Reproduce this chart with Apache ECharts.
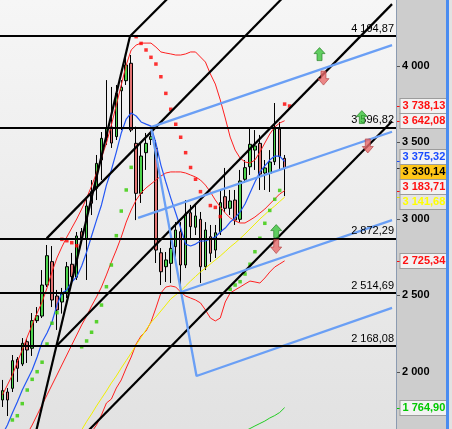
<!DOCTYPE html>
<html>
<head>
<meta charset="utf-8">
<script src="https://cdn.jsdelivr.net/npm/echarts@6.0.0/dist/echarts.min.js"></script>
<style>
html, body { margin:0; padding:0; background:#cdcdcd; overflow:hidden; }
#wrap { position:relative; width:452px; height:429px; }
#chart { position:absolute; left:0; top:0; width:452px; height:429px; }
#strip { position:absolute; left:446px; top:0; width:3px; height:429px; background:#4a8cf0; }
#edge { position:absolute; left:449px; top:0; width:3px; height:429px; background:#e2e2e2; }
</style>
</head>
<body>
<div id="wrap"><div id="chart"></div><div id="strip"></div><div id="edge"></div></div>
<script>
// ---------------- data ----------------
const categoryCount = 80;
const yMin = 1625, yMax = 4432;
const axisTickValues = [2000, 2500, 3000, 3500, 4000];
const levels = [4194.87, 3596.82, 2872.29, 2514.69, 2168.08];

const opens  = [1815,1867,1891,2081,2050,2196,2153,2334,2364,2567,2720,2495,2456,2513,2703,2618,2916,2866,3178,3200,3385,3529,3601,3538,3838,3904,4018,3494,3167,3433,3520,3462,2778,2687,2709,2818,2916,2698,3040,2945,2997,2687,2883,2796,2916,3145,3069,3123,2997,3259,3341,3450,3494,3300,3298,3374,3588,3396];
const closes = [1876,1815,2072,2022,2186,2142,2334,2366,2567,2759,2469,2404,2508,2687,2622,2888,2866,3084,3102,3363,3527,3594,3496,3821,3861,4007,3581,3167,3411,3494,3538,2796,2654,2731,2807,2927,2698,3032,2949,3019,2687,2927,2775,2909,3106,3069,3117,2992,3248,3335,3488,3477,3293,3333,3372,3588,3407,3330.14];
const lows   = [1769,1710,1867,1933,2037,2057,2103,2319,2351,2554,2423,2273,2380,2482,2567,2600,2849,2600,3025,3123,3254,3483,3464,3516,3581,3876,3568,2992,3104,3320,3483,2711,2567,2587,2580,2718,2535,2678,2862,2894,2580,2665,2718,2744,2894,3045,3025,2960,2979,3235,3287,3320,3189,3189,3176,3352,3320,3149];
const highs  = [1946,1893,2109,2096,2220,2214,2384,2423,2665,2829,2822,2535,2548,2718,2777,2914,2940,3136,3254,3418,3568,3908,3863,3876,3908,4072,4072,3603,3496,3562,3575,3516,2809,2783,2862,2979,2979,3123,3091,3091,3045,2979,2960,2960,3189,3333,3189,3189,3320,3385,3594,3581,3549,3385,3450,3758,3634,3418];

const blueMAStart = 0;
const blueMA = [1590,1651,1730,1802,1880,1946,2011,2096,2194,2253,2325,2436,2515,2535,2587,2620,2692,2783,2888,2992,3091,3221,3320,3437,3562,3653,3693,3673,3634,3620,3607,3496,3352,3241,3136,3038,2940,2835,2822,2835,2855,2855,2868,2881,2914,2940,2979,3006,3045,3097,3169,3241,3307,3346,3385,3411,3411,3375.32];
const yellowMAStart = 16;
const yellowMA = [1619,1674,1723,1776,1825,1874,1926,1972,2024,2073,2122,2175,2224,2273,2322,2358,2397,2436,2476,2502,2528,2561,2593,2623,2652,2678,2705,2731,2757,2786,2816,2842,2871,2901,2934,2966,2999,3028,3058,3084,3113.5,3141.68];
const redUpperStart = 0;
const redUpper = [1848,1913,1978,2063,2142,2227,2306,2384,2456,2548,2652,2744,2816,2881,2940,2999,3064,3136,3215,3300,3398,3496,3614,3745,3876,4007,4105,4137,4150,4150,4150,4124,4092,4085,4079,4072,4072,4079,4092,4092,4059,4026,3948,3882,3778,3660,3535,3450,3398,3372,3365,3385,3437,3496,3555,3601,3627,3642.08];
const redMAStart = 5;
const redMA = [1592,1651,1717,1782,1848,1913,1978,2044,2109,2175,2240,2306,2364,2430,2489,2554,2633,2718,2796,2881,2979,3058,3123,3169,3202,3228,3254,3280,3300,3307,3307,3307,3300,3287,3274,3254,3221,3176,3123,3078,3038,3006,2986,2973,2973,2992,3012,3038,3064,3097,3130,3163,3183.71];
const redLowStart = 18;
const redLow = [1605,1651,1717,1795,1821,1893,1946,2024,2096,2181,2234,2266,2325,2417,2515,2554,2561,2554,2521,2495,2482,2469,2450,2404,2351,2332,2351,2456,2515,2535,2554,2574,2593,2587,2580,2613,2652,2685,2705,2725.34];
const greenLineStart = 49;
const greenLine = [1612,1628,1645,1661,1677,1697,1713,1733,1764.90];

const sarGreen = [[2,1684],[3,1712],[4,1791],[5,1880],[6,1950],[7,2000],[8,2062],[9,2181],[10,2317],[11,2386],
  [16,2163],[17,2201],[18,2258],[19,2327],[20,2436],[21,2556],[22,2698],[23,2890],[24,3051],[25,3189],[26,3337],
  [46,2539],[47,2567],[48,2589],[49,2639],[50,2703],[51,2785],[52,2873],[53,2971],[54,3055],[55,3128],[56,3186]];
const sarRed = [[12,2866],[13,2857],[14,2844],[15,2824],
  [27,4192],[28,4148],[29,4105],[30,4057],[31,4013],[32,3930],[33,3821],[34,3717],[35,3619],[36,3534],[37,3433],[38,3336],[39,3259],[40,3178],[42,3087],[43,3075],[44,3015],
  [57,3751],[58,3738.13]];

// black channel lines (index, value)
const fanSteep = [[6.7,1597],[25.76,4194.87]];
const fan1 = [[25.76,4194.87],[36,4527]];
const fan2 = [[8.93,2872.29],[58,4492]];
const fan3 = [[10.9,2168.08],[78.7,4405]];
const fan4 = [[16,1570],[78.7,3639]];
// blue trend lines
const trendUpper = [[30,3600],[78.7,4137]];
const trendMid = [[27.4,3006],[78.7,3570]];
const trendLow = [[36.2,2523],[78.7,2992]];
const trendV = [[30,3600],[39.2,1972],[78.7,2417]];
// arrows
const arrowsUp = [[64.05,4078],[72.6,3666],[55.3,2920]];
const arrowsDown = [[64.85,3921],[73.8,3477],[55.3,2819]];

// ---------------- helpers ----------------
const font = 'Liberation Sans, Arial, Helvetica, sans-serif';
const cats = Array.from({length: categoryCount}, (_, i) => String(i));
const candles = opens.map((o, i) => [o, closes[i], lows[i], highs[i]]);
const seq = (start, arr) => arr.map((v, k) => [start + k, v]);
const lastOf = a => a[a.length - 1];
function fmt(v, dec) {
  const s = v.toFixed(dec);
  const parts = s.split('.');
  const ig = parts[0].replace(/\B(?=(\d{3})+(?!\d))/g, ' ');
  return parts[1] ? ig + ',' + parts[1] : ig;
}

const boxes = [
  { value: lastOf(sarRed)[1], color: '#ff1010', bg: '#f2f2f2', tick: '#ff1010' },
  { value: lastOf(redUpper), color: '#ff1010', bg: '#f2f2f2', tick: '#ff1010' },
  { value: lastOf(blueMA), color: '#1a4cff', bg: '#f2f2f2', tick: '#1a4cff' },
  { value: lastOf(closes), color: '#000000', bg: '#ffc617', tick: '#333333' },
  { value: lastOf(redMA), color: '#ff1010', bg: '#f2f2f2', tick: '#ff1010' },
  { value: lastOf(yellowMA), color: '#ffff00', bg: '#e4e4e4', tick: '#e8e800' },
  { value: lastOf(redLow), color: '#ff1010', bg: '#f2f2f2', tick: '#ff1010' },
  { value: lastOf(greenLine), color: '#00c800', bg: '#f2f2f2', tick: '#00c800' }
];

// spread overlapping value boxes
const plotH = 429;
const gapUnits = 15 * (yMax - yMin) / plotH;
const order = boxes.map((b, i) => i).sort((a, b) => boxes[b].value - boxes[a].value);
let clusters = order.map(i => ({ ids: [i], center: boxes[i].value }));
let changed = true;
while (changed) {
  changed = false;
  for (let k = 0; k < clusters.length - 1; k++) {
    const a = clusters[k], b = clusters[k + 1];
    const aBottom = a.center - (a.ids.length - 1) * gapUnits / 2;
    const bTop = b.center + (b.ids.length - 1) * gapUnits / 2;
    if (aBottom - bTop < gapUnits) {
      const ids = a.ids.concat(b.ids);
      const center = ids.reduce((s, i) => s + boxes[i].value, 0) / ids.length;
      clusters.splice(k, 2, { ids, center });
      changed = true;
      break;
    }
  }
}
const boxPos = new Array(boxes.length);
clusters.forEach(c => {
  const n = c.ids.length;
  c.ids.forEach((id, j) => { boxPos[id] = c.center + ((n - 1) / 2 - j) * gapUnits; });
});

const lineSeries = (data, color, width, z) => ({
  type: 'line', xAxisIndex: 1, yAxisIndex: 0, data, symbol: 'none', silent: true,
  animation: false, lineStyle: { color, width }, z: z
});

const arrowUpPath = 'path://M5.5,0 L11,6 L8,6 L8,13 L3,13 L3,6 L0,6 Z';
const arrowDownPath = 'path://M3,0 L8,0 L8,7 L11,7 L5.5,13 L0,7 L3,7 Z';

const steepSeries = lineSeries(fanSteep, '#000', 2.2, 4);
steepSeries.markLine = {
  symbol: ['none', 'none'], silent: true, animation: false,
  lineStyle: { color: '#000', width: 2, type: 'solid' },
  label: { show: true, position: 'insideEndTop', distance: 2, color: '#000', fontSize: 11, fontFamily: font,
           formatter: p => fmt(p.value, 2) },
  emphasis: { disabled: true },
  data: levels.map(v => ({ yAxis: v }))
};

const option = {
  animation: false,
  grid: {
    left: 0, right: 56, top: 0, bottom: 0, show: true, borderWidth: 0, containLabel: false,
    outerBoundsMode: 'none',
    backgroundColor: { type: 'linear', x: 0, y: 0, x2: 0, y2: 1,
      colorStops: [{ offset: 0, color: '#f6f6f6' }, { offset: 1, color: '#e2e2e2' }] }
  },
  xAxis: [
    { type: 'category', data: cats, boundaryGap: true, show: false },
    { type: 'value', min: -0.5, max: categoryCount - 0.5, show: false, axisLine: { onZero: false } }
  ],
  yAxis: [
    {
      type: 'value', position: 'right', min: yMin, max: yMax,
      splitLine: { show: false },
      axisLine: { show: true, onZero: false, lineStyle: { color: '#8b9bb1', width: 1 } },
      axisTick: { show: false },
      axisLabel: { customValues: axisTickValues, formatter: v => fmt(v, 0), color: '#000',
                   fontWeight: 'bold', fontSize: 11, fontFamily: font, margin: 6 }
    }
  ],
  series: [
    {
      type: 'candlestick', xAxisIndex: 0, yAxisIndex: 0, data: candles, barWidth: 3, silent: true, z: 1,
      itemStyle: { color: '#4cd24c', color0: '#e27272', borderColor: '#000', borderColor0: '#000', borderWidth: 1 }
    },
    lineSeries(seq(redUpperStart, redUpper), '#ff2020', 1, 2),
    lineSeries(seq(redMAStart, redMA), '#ff2020', 1, 2),
    lineSeries(seq(redLowStart, redLow), '#ff2020', 1, 2),
    lineSeries(seq(yellowMAStart, yellowMA), '#f0f000', 1, 2),
    lineSeries(seq(blueMAStart, blueMA), '#2457f5', 1.2, 2),
    lineSeries(seq(greenLineStart, greenLine), '#22cc22', 1, 2),
    { type: 'scatter', xAxisIndex: 1, yAxisIndex: 0, data: sarGreen, symbol: 'rect', symbolSize: 3.5,
      itemStyle: { color: '#33cc00' }, silent: true, z: 3 },
    { type: 'scatter', xAxisIndex: 1, yAxisIndex: 0, data: sarRed, symbol: 'rect', symbolSize: 3.5,
      itemStyle: { color: '#ff0000' }, silent: true, z: 3 },
    steepSeries,
    lineSeries(fan1, '#000', 2.2, 4),
    lineSeries(fan2, '#000', 2.2, 4),
    lineSeries(fan3, '#000', 2.2, 4),
    lineSeries(fan4, '#000', 2.2, 4),
    lineSeries(trendUpper, '#6a9ff5', 2.3, 4),
    lineSeries(trendMid, '#6a9ff5', 2.3, 4),
    lineSeries(trendLow, '#6a9ff5', 2.3, 4),
    lineSeries(trendV, '#6a9ff5', 2.3, 4),
    { type: 'scatter', xAxisIndex: 1, yAxisIndex: 0, data: arrowsUp, symbol: arrowUpPath, symbolSize: [11, 13],
      itemStyle: { color: '#3cc43c', borderColor: '#1d7a1d', borderWidth: 0.8 }, silent: true, z: 6 },
    { type: 'scatter', xAxisIndex: 1, yAxisIndex: 0, data: arrowsDown, symbol: arrowDownPath, symbolSize: [11, 14],
      itemStyle: { color: '#e86a6a', borderColor: '#b04040', borderWidth: 0.8 }, silent: true, z: 6 },
    {
      // gray ticks of the price scale
      type: 'custom', xAxisIndex: 1, yAxisIndex: 0, silent: true, z: 7, clip: false,
      data: axisTickValues.map(v => [categoryCount - 0.5, v]),
      renderItem: (params, api) => {
        const p = api.coord([api.value(0), api.value(1)]);
        const y = Math.round(p[1]) + 0.5;
        return { type: 'line', shape: { x1: p[0] + 1, y1: y, x2: p[0] + 4, y2: y },
                 style: { stroke: '#555', lineWidth: 1 } };
      }
    },
    {
      type: 'custom', xAxisIndex: 1, yAxisIndex: 0, silent: true, z: 7, clip: false,
      data: boxes.map((b, k) => [categoryCount - 0.5, b.value, boxPos[k]]),
      renderItem: (params, api) => {
        const b = boxes[params.dataIndex];
        const p = api.coord([api.value(0), api.value(1)]);
        const q = api.coord([api.value(0), api.value(2)]);
        const y = Math.round(p[1]) + 0.5;
        return {
          type: 'group',
          children: [
            { type: 'line', shape: { x1: p[0] + 1, y1: y, x2: p[0] + 4, y2: y },
              style: { stroke: b.tick, lineWidth: 1 } },
            { type: 'text', x: Math.round(q[0]) + 4.5, y: Math.round(q[1]),
              style: { text: fmt(b.value, 2), fill: b.color, backgroundColor: b.bg,
                       borderColor: '#9c9c9c', borderWidth: 1, padding: [2, 2, 1, 2],
                       fontSize: 11, fontWeight: 'bold', fontFamily: font, lineHeight: 11,
                       align: 'left', verticalAlign: 'middle' } }
          ]
        };
      }
    }
  ]
};

const chart = echarts.init(document.getElementById('chart'), null, { renderer: 'canvas' });
chart.setOption(option);
</script>
</body>
</html>
